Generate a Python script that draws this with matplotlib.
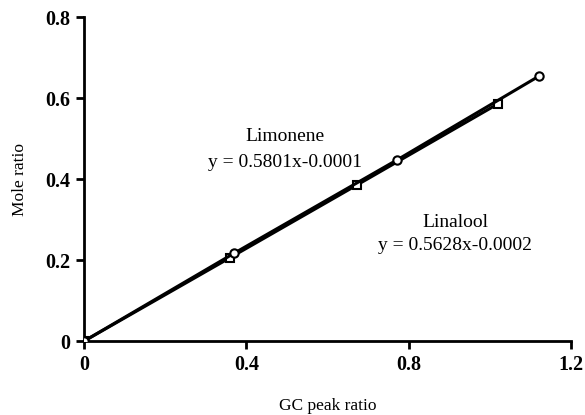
import matplotlib
matplotlib.use("Agg")
import matplotlib.pyplot as plt

limonene_x = [0.0, 0.370, 0.771, 1.121]
limonene_y = [0.0, 0.217, 0.447, 0.654]
linalool_x = [0.0, 0.360, 0.672, 1.019]
linalool_y = [0.0, 0.206, 0.385, 0.585]
xticks = [0, 0.4, 0.8, 1.2]
xticklabels = ["0", "0.4", "0.8", "1.2"]
yticks = [0, 0.2, 0.4, 0.6, 0.8]
yticklabels = ["0", "0.2", "0.4", "0.6", "0.8"]

plt.rcParams['font.family'] = ['Liberation Serif', 'DejaVu Serif']

fig = plt.figure(figsize=(5.85, 4.15), dpi=100)
ax = fig.add_axes([0.1436, 0.178, 0.8324, 0.781])

ax.plot(linalool_x, linalool_y, color='black', lw=2.2, marker='s', ms=5.5,
        mfc='white', mec='black', mew=1.5, zorder=3)
ax.plot(limonene_x, limonene_y, color='black', lw=2.2, marker='o', ms=6,
        mfc='white', mec='black', mew=1.5, zorder=4)

ax.set_xlim(0, 1.2)
ax.set_ylim(0, 0.8)
ax.set_xticks(xticks)
ax.set_xticklabels(xticklabels)
ax.set_yticks(yticks)
ax.set_yticklabels(yticklabels)
for s in ['top', 'right']:
    ax.spines[s].set_visible(False)
for s in ['left', 'bottom']:
    ax.spines[s].set_linewidth(2)
ax.tick_params(width=2, length=6, labelsize=14.5, direction='out')
ax.tick_params(axis='x', pad=4)
ax.tick_params(axis='y', pad=4)
for lab in ax.get_xticklabels() + ax.get_yticklabels():
    lab.set_fontweight('bold')

ax.set_xlabel("GC peak ratio", fontsize=12.5)
ax.xaxis.set_label_coords(0.5, -0.2)
ax.xaxis.label.set_va('center')
ax.set_ylabel("Mole ratio", fontsize=12.5, labelpad=12)

ax.text(0.495, 0.504, "Limonene", fontsize=14, ha='center', va='center')
ax.text(0.495, 0.44, "y = 0.5801x-0.0001", fontsize=14, ha='center', va='center')
ax.text(0.914, 0.294, "Linalool", fontsize=14, ha='center', va='center')
ax.text(0.914, 0.237, "y = 0.5628x-0.0002", fontsize=14, ha='center', va='center')

fig.savefig("out.png", dpi=100)
